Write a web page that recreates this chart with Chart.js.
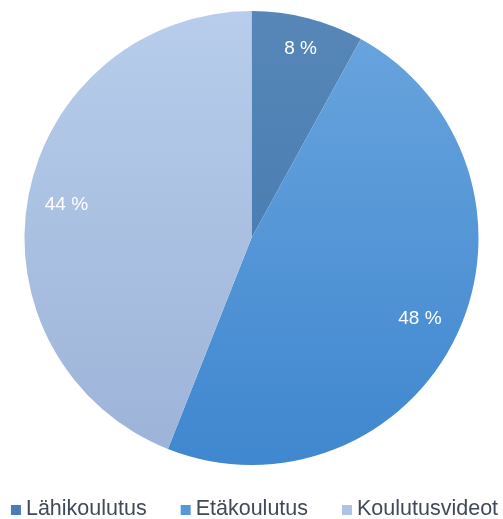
<!DOCTYPE html>
<html>
<head>
<meta charset="utf-8">
<script src="https://cdn.jsdelivr.net/npm/chart.js@4/dist/chart.umd.min.js"></script>
<style>
  html, body { margin: 0; padding: 0; background: #fff; }
  #wrap { width: 503px; height: 519px; position: relative; }
</style>
</head>
<body>
<div id="wrap"><canvas id="pie"></canvas></div>
<script>
(function () {
  "use strict";
  var labels = ["Lähikoulutus", "Etäkoulutus", "Koulutusvideot"];
  var shares = [8, 48, 44];
  // top / bottom stops of each slice's vertical gradient
  var topColors = ["#5787b8", "#6aa5de", "#b7cdeb"];
  var bottomColors = ["#3f75ad", "#3f87cf", "#9cb3d8"];
  var flatColors = ["#4a7db6", "#559ad8", "#adc4e6"];
  // how far out (fraction of radius) each percentage sits
  var labelDist = [0.87, 0.82, 0.83];
  var FONT = "'Liberation Sans', Arial, sans-serif";
  var TEXT = "#404a58";

  function sliceFill(ctx) {
    var chart = ctx.chart, area = chart.chartArea;
    if (!area) return flatColors[ctx.dataIndex];
    var g = chart.ctx.createLinearGradient(0, area.top, 0, area.bottom);
    g.addColorStop(0, topColors[ctx.dataIndex]);
    g.addColorStop(1, bottomColors[ctx.dataIndex]);
    return g;
  }

  // percentage text along each slice's middle angle
  var pctLabels = {
    id: "pctLabels",
    afterDatasetsDraw: function (chart) {
      var c = chart.ctx;
      c.save();
      c.fillStyle = "#ffffff";
      c.font = "19px " + FONT;
      c.textAlign = "center";
      c.textBaseline = "middle";
      chart.getDatasetMeta(0).data.forEach(function (arc, i) {
        var p = arc.getProps(["x", "y", "startAngle", "endAngle", "outerRadius"], true);
        var mid = (p.startAngle + p.endAngle) / 2;
        var r = p.outerRadius * labelDist[i];
        c.fillText(shares[i] + " %", p.x + Math.cos(mid) * r, p.y + Math.sin(mid) * r + 2);
      });
      c.restore();
    }
  };

  // one-row legend under the pie: small square, then the name
  var bottomLegend = {
    id: "bottomLegend",
    afterDraw: function (chart) {
      var c = chart.ctx, box = 10, gap = 5, spacing = 34, y = 509;
      c.save();
      c.font = "21.5px " + FONT;
      c.textBaseline = "middle";
      var widths = labels.map(function (l) { return c.measureText(l).width; });
      var total = widths.reduce(function (s, w) { return s + box + gap + w; }, 0) + spacing * (labels.length - 1);
      var x = 254.5 - total / 2;
      labels.forEach(function (l, i) {
        c.fillStyle = flatColors[i];
        c.fillRect(x, y - box / 2 + 1, box, box);
        x += box + gap;
        c.fillStyle = TEXT;
        c.fillText(l, x, y);
        x += widths[i] + spacing;
      });
      c.restore();
    }
  };

  new Chart(document.getElementById("pie"), {
    type: "pie",
    data: {
      labels: labels,
      datasets: [{ data: shares, backgroundColor: sliceFill, borderWidth: 0 }]
    },
    options: {
      responsive: true,
      maintainAspectRatio: false,
      animation: false,
      layout: { padding: { top: 11, bottom: 54 } },
      plugins: { tooltip: { enabled: false }, legend: { display: false } }
    },
    plugins: [pctLabels, bottomLegend]
  });
})();
</script>
</body>
</html>
